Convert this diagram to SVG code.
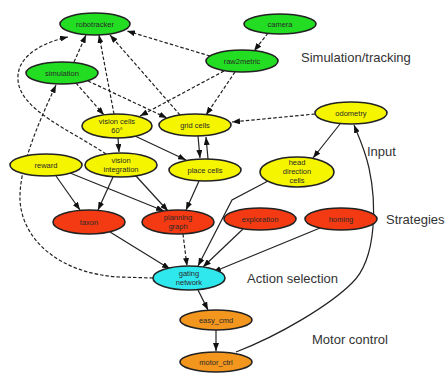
<svg xmlns="http://www.w3.org/2000/svg" width="448" height="377" viewBox="0 0 448 377">
<defs>
<marker id="ah" viewBox="0 0 8 6" refX="8" refY="3" markerWidth="8" markerHeight="6" markerUnits="userSpaceOnUse" orient="auto"><path d="M0,0 L8,3 L0,6 z" fill="#111"/></marker>
<style>
.e{fill:none;stroke:#222;stroke-width:1.2;marker-end:url(#ah)}
.d{stroke-dasharray:3.5,2}
ellipse{stroke:#222;stroke-width:1.6}
.g{fill:#22dd22}.y{fill:#f5f500}.r{fill:#f43a12}.c{fill:#2ee8ee}.o{fill:#f3961e}
.t{font-family:"Liberation Sans",Arial,sans-serif;font-size:7.5px;fill:#2a2a2a;text-anchor:middle}
.l{font-family:"Liberation Sans",Arial,sans-serif;font-size:13px;fill:#333}
</style>
</defs>
<rect width="448" height="377" fill="#fff"/>
<g id="connectors">
<path class="e d" d="M74,62 L86,35"/>
<path class="e d" d="M114,114 L99,35"/>
<path class="e d" d="M180,115 L110,35"/>
<path class="e d" d="M210,56 L127,31"/>
<path class="e d" d="M268,33 L254,51"/>
<path class="e d" d="M224,71 L140,116"/>
<path class="e d" d="M235,72 L206,115"/>
<path class="e d" d="M76,83 L104,115"/>
<path class="e d" d="M88,81 L167,118"/>
<path class="e d" d="M106,154 C70,130 20,110 18,80 C16,55 45,42 68,37"/>
<path class="e d" d="M153,278 L120,277 C60,274 22,240 20,200 C19,170 35,130 56,85"/>
<path class="e d" d="M315,114 L232,122"/>
<path class="e d" d="M183,234 L187,266"/>
<path class="e" d="M340,124 L313,158"/>
<path class="e" d="M236,352 C280,335 330,305 352,283 C378,258 376,200 369,168 C365,150 358,135 354,125"/>
<path class="e" d="M118,138 L119,152"/>
<path class="e" d="M135,136 L186,160"/>
<path class="e" d="M198,136 L200,158"/>
<path class="e" d="M208,159 L206,137"/>
<path class="e" d="M56,176 L80,210"/>
<path class="e" d="M70,173 L164,211"/>
<path class="e" d="M113,177 L98,210"/>
<path class="e" d="M136,176 L168,211"/>
<path class="e" d="M199,181 L186,210"/>
<path class="e" d="M110,232 L170,269"/>
<path class="e" d="M268,181 L232,200 L198,266"/>
<path class="e" d="M243,229 L203,267"/>
<path class="e" d="M320,228 L213,272"/>
<path class="e" d="M198,290 L208,310"/>
<path class="e" d="M216,330 L216,351"/>
</g>
<g id="robotracker"><ellipse class="g" cx="95" cy="24" rx="35" ry="11"/><text class="t" x="95" y="27">robotracker</text></g>
<g id="camera"><ellipse class="g" cx="280" cy="24" rx="36" ry="10"/><text class="t" x="280" y="27">camera</text></g>
<g id="raw2metric"><ellipse class="g" cx="242" cy="61" rx="36" ry="11"/><text class="t" x="242" y="64">raw2metric</text></g>
<g id="simulation"><ellipse class="g" cx="62" cy="73" rx="36" ry="11"/><text class="t" x="62" y="76">simulation</text></g>
<g id="vision_cells"><ellipse class="y" cx="117" cy="126" rx="35" ry="12"/><text class="t" x="117" y="124">vision cells</text><text class="t" x="117" y="133">60°</text></g>
<g id="grid_cells"><ellipse class="y" cx="195" cy="125" rx="36" ry="11"/><text class="t" x="195" y="128">grid cells</text></g>
<g id="odometry"><ellipse class="y" cx="351" cy="113" rx="36" ry="11"/><text class="t" x="351" y="116">odometry</text></g>
<g id="reward"><ellipse class="y" cx="46" cy="165" rx="36" ry="11"/><text class="t" x="46" y="168">reward</text></g>
<g id="vision_integration"><ellipse class="y" cx="121" cy="165" rx="36" ry="12"/><text class="t" x="121" y="163">vision</text><text class="t" x="121" y="172">integration</text></g>
<g id="place_cells"><ellipse class="y" cx="205" cy="170" rx="36" ry="11"/><text class="t" x="205" y="173">place cells</text></g>
<g id="head_direction_cells"><ellipse class="y" cx="297" cy="172" rx="37" ry="15"/><text class="t" x="297" y="165">head</text><text class="t" x="297" y="174">direction</text><text class="t" x="297" y="183">cells</text></g>
<g id="taxon"><ellipse class="r" cx="89" cy="222" rx="36" ry="12"/><text class="t" x="89" y="225">taxon</text></g>
<g id="planning_graph"><ellipse class="r" cx="178" cy="222" rx="36" ry="12"/><text class="t" x="178" y="220">planning</text><text class="t" x="178" y="229">graph</text></g>
<g id="exploration"><ellipse class="r" cx="260" cy="219" rx="36" ry="11"/><text class="t" x="260" y="222">exploration</text></g>
<g id="homing"><ellipse class="r" cx="341" cy="219" rx="36" ry="11"/><text class="t" x="341" y="222">homing</text></g>
<g id="gating_network"><ellipse class="c" cx="189" cy="278" rx="36" ry="12"/><text class="t" x="189" y="276">gating</text><text class="t" x="189" y="285">network</text></g>
<g id="easy_cmd"><ellipse class="o" cx="216" cy="320" rx="36" ry="10"/><text class="t" x="216" y="323">easy_cmd</text></g>
<g id="motor_ctrl"><ellipse class="o" cx="216" cy="362" rx="36" ry="10"/><text class="t" x="216" y="365">motor_ctrl</text></g>
<g id="labels">
<text class="l" x="301" y="62">Simulation/tracking</text>
<text class="l" x="367" y="156">Input</text>
<text class="l" x="386" y="224">Strategies</text>
<text class="l" x="247" y="283">Action selection</text>
<text class="l" x="312" y="344">Motor control</text>
</g>
</svg>
